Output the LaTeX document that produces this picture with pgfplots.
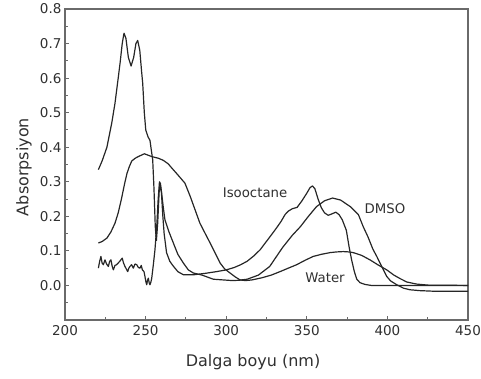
\documentclass[border=0pt]{standalone}
\usepackage{fontspec}
\setmainfont{DejaVu Sans}
\usepackage{pgfplots}
\pgfplotsset{compat=1.18}
\definecolor{curve}{HTML}{262626}
\definecolor{frame}{HTML}{6A6A6A}
\definecolor{txt}{HTML}{303030}
\begin{document}
\begin{tikzpicture}
\path[use as bounding box] (-65pt,-59pt) rectangle (416pt,320pt);
\begin{axis}[
  scale only axis, width=403pt, height=311pt,
  xmin=200, xmax=450, ymin=-0.1, ymax=0.8,
  xtick={200,250,...,450}, minor xtick={225,275,...,425},
  ytick={0,0.1,...,0.8}, minor ytick={-0.05,0.05,0.15,0.25,0.35,0.45,0.55,0.65,0.75},
  tick align=inside, xtick pos=bottom, ytick pos=left,
  major tick length=4pt, minor tick length=3pt,
  axis line style={frame, line width=1.1pt},
  tick style={frame, line width=0.9pt},
  /pgf/number format/assume math mode=true,
  yticklabel style={/pgf/number format/.cd, fixed, fixed zerofill, precision=1},
  tick label style={font=\fontsize{13.5}{16}\selectfont, text=txt},
  xticklabel style={yshift=-2pt},
  xlabel={Dalga boyu (nm)}, ylabel={Absorpsiyon},
  xlabel style={at={(axis description cs:0.4665,0)}, anchor=base, yshift=-46.7pt, font=\fontsize{16}{19}\selectfont, text=txt},
  ylabel style={at={(axis description cs:-0.0911,0.492)}, anchor=base, font=\fontsize{16}{19}\selectfont, text=txt},
]
% Isooctane
\addplot[curve, line width=1.2pt, line join=round] coordinates {(220.7,0.335) (223,0.36) (226,0.40) (229,0.47) (231,0.527) (233,0.60) (234.2,0.645) (235.5,0.70) (236.6,0.73) (237.8,0.715) (239.3,0.66) (241,0.635) (242.6,0.66) (244,0.70) (245.1,0.709) (246.4,0.68) (247.5,0.62) (248.2,0.585) (249.2,0.50) (250.1,0.45) (251.5,0.43) (252.7,0.42) (253.6,0.39) (254.4,0.364) (255.2,0.28) (256,0.17) (256.7,0.13) (257.5,0.18) (258.4,0.27) (259,0.292) (259.8,0.27) (260.7,0.20) (261.5,0.15) (263,0.095) (265,0.07) (267,0.057) (270,0.04) (273.4,0.031) (280,0.031) (287,0.035) (294,0.040) (300,0.045) (305,0.052) (309,0.06) (313,0.070) (317,0.085) (321,0.103) (327,0.14) (331,0.165) (334,0.185) (336.5,0.205) (338.5,0.215) (341,0.222) (344,0.226) (347,0.245) (350,0.267) (352,0.283) (353.5,0.288) (355,0.28) (357,0.25) (359,0.225) (361,0.21) (363.3,0.203) (365.5,0.207) (368,0.212) (370,0.205) (372,0.19) (374.5,0.16) (376.3,0.11) (377.8,0.074) (379.5,0.04) (381,0.018) (383,0.008) (386,0.003) (390,0.0) (450,0.0)};
% DMSO
\addplot[curve, line width=1.2pt, line join=round] coordinates {(220.7,0.05) (221.5,0.07) (222.3,0.084) (223,0.065) (223.8,0.06) (224.8,0.074) (225.8,0.062) (226.9,0.055) (227.7,0.07) (228.5,0.074) (229.3,0.055) (230,0.045) (231,0.058) (232,0.06) (233,0.065) (234,0.07) (235.5,0.079) (236.3,0.065) (237.2,0.055) (238,0.048) (238.9,0.04) (239.6,0.05) (240.3,0.055) (241.3,0.06) (242.4,0.05) (243.4,0.062) (244.5,0.06) (245.5,0.052) (246.5,0.05) (247.3,0.058) (248,0.045) (249,0.04) (249.6,0.026) (250.2,0.01) (250.7,0.002) (251.2,0.015) (251.7,0.021) (252.2,0.008) (252.7,0.002) (253.3,0.01) (253.8,0.021) (254.8,0.06) (255.8,0.103) (256.9,0.17) (257.8,0.25) (258.6,0.30) (259.2,0.295) (260,0.265) (261,0.225) (262,0.19) (264.5,0.155) (267.2,0.123) (270,0.09) (273.4,0.065) (276.5,0.045) (279.6,0.036) (285,0.03) (292,0.018) (298,0.016) (304,0.014) (308,0.015) (313,0.018) (320,0.03) (327,0.055) (335,0.11) (341,0.145) (346,0.17) (351,0.20) (356,0.228) (361,0.245) (366,0.253) (371,0.247) (377,0.228) (382,0.205) (385,0.17) (388,0.14) (391,0.105) (393.4,0.084) (395.4,0.065) (399.6,0.026) (402,0.013) (405.8,0.002) (410,-0.008) (414,-0.0125) (420,-0.015) (430,-0.017) (450,-0.017)};
% Water
\addplot[curve, line width=1.2pt, line join=round] coordinates {(220.7,0.123) (223,0.127) (226,0.137) (228.5,0.155) (231,0.18) (233,0.21) (235,0.25) (237,0.295) (238.5,0.325) (240,0.345) (241.4,0.36) (243.5,0.368) (245.5,0.373) (249.2,0.381) (253.8,0.373) (258,0.368) (261,0.362) (264,0.352) (266.2,0.34) (270,0.32) (274.4,0.296) (277.5,0.26) (280.6,0.22) (283.7,0.18) (287,0.15) (290,0.123) (293,0.095) (296.2,0.065) (299,0.048) (302.4,0.036) (305.5,0.025) (308.6,0.016) (312,0.014) (316,0.016) (322,0.022) (328,0.03) (333.4,0.04) (338.5,0.05) (343.7,0.06) (349,0.073) (354,0.084) (359,0.09) (364.4,0.095) (368.5,0.097) (372.6,0.098) (376,0.097) (378.8,0.095) (384,0.087) (389.2,0.074) (394,0.06) (399.6,0.045) (404,0.03) (407.8,0.02) (412,0.01) (418,0.004) (425,0.001) (450,0.0)};
\node[font=\fontsize{13.3}{16}\selectfont, text=txt] at (axis cs:317.9,0.269) {Isooctane};
\node[font=\fontsize{13.3}{16}\selectfont, text=txt] at (axis cs:398.5,0.221) {DMSO};
\node[font=\fontsize{13.3}{16}\selectfont, text=txt] at (axis cs:361.3,0.021) {Water};
\end{axis}
\end{tikzpicture}
\end{document}
